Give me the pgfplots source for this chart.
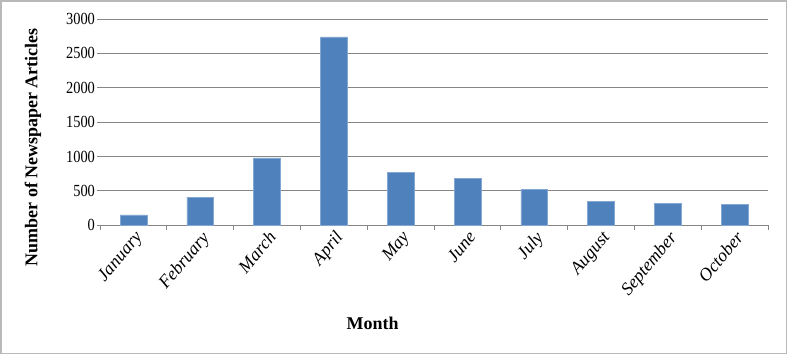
\documentclass[border=0pt]{standalone}
\usepackage{fontspec}
\setmainfont{Liberation Serif}
\newfontfamily\numfont{Liberation Serif}[FakeStretch=0.85]
\usepackage{pgfplots}
\pgfplotsset{compat=1.18}
\definecolor{barblue}{RGB}{79,129,189}
\definecolor{gridgray}{RGB}{134,134,134}
\definecolor{framegray}{RGB}{185,185,185}
\pgfplotstableread{
x val
0 150
1 410
2 980
3 2740
4 770
5 680
6 520
7 350
8 316
9 301
}\datatable
\begin{document}
\begin{tikzpicture}[x=1bp,y=1bp]
\draw[framegray, line width=1.5bp] (0.75,0.75) rectangle (785.25,353.25);
\begin{axis}[at={(100bp,129bp)}, anchor=south west, scale only axis,
  width=667bp, height=206bp,
  xmin=-0.5, xmax=9.5, ymin=0, ymax=3000,
  ytick={0,500,...,3000},
  axis x line*=bottom, axis y line*=left,
  y axis line style={draw=none},
  x axis line style={gridgray, line width=0.9bp, -},
  ymajorgrids, grid style={gridgray, line width=0.9bp},
  tick align=outside,
  ytick style={gridgray, line width=0.9bp},
  major tick length=3bp,
  xtick={0,...,9},
  xticklabels={January,February,March,April,May,June,July,August,September,October},
  major x tick style={draw=none},
  minor xtick={-0.5,0.5,...,9.5},
  minor tick length=5bp,
  minor x tick style={gridgray, line width=0.9bp},
  /pgf/number format/assume math mode=true,
  /pgf/number format/1000 sep={},
  yticklabel style={font=\numfont\fontsize{17}{19}\selectfont, inner sep=2bp},
  xticklabel style={font=\fontsize{18}{20}\selectfont\itshape, rotate=50, anchor=north east, inner sep=1bp},
  ylabel={Number of Newspaper Articles},
  ylabel style={font=\fontsize{18}{20}\selectfont\bfseries, at={(axis description cs:-0.1004,0.379)}, anchor=center},
  xlabel={Month},
  xlabel style={font=\fontsize{18}{20}\selectfont\bfseries, at={(axis description cs:0.408,-0.476)}, anchor=center},
  clip=false,
]
\addplot[ybar, bar width=0.4, fill=barblue, draw=barblue!70!white, line width=0.6bp] table[x=x, y=val] {\datatable};
\end{axis}
\end{tikzpicture}
\end{document}
